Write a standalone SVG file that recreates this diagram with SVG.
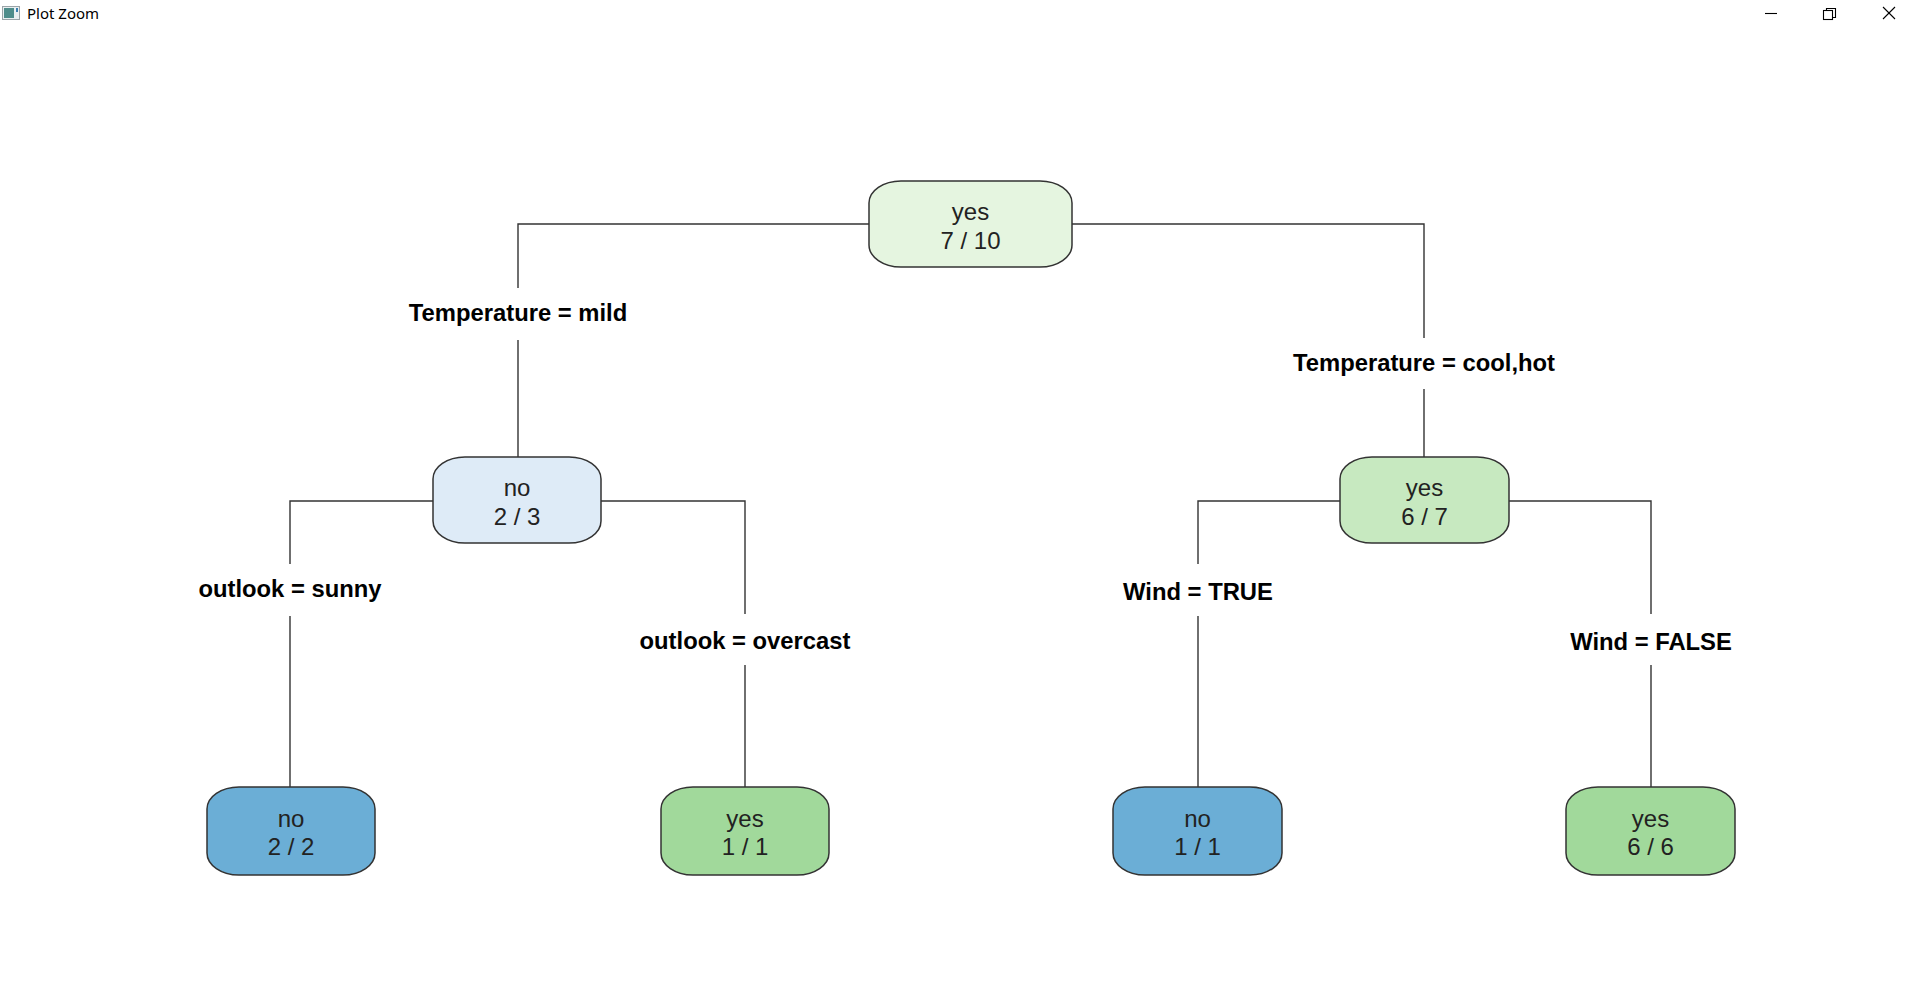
<svg xmlns="http://www.w3.org/2000/svg" width="1920" height="1001" viewBox="0 0 1920 1001">
<style>
.node{stroke:#333333;stroke-width:1.5}
.nt{font-family:"Liberation Sans",Arial,sans-serif;font-size:24px;fill:#222222;text-anchor:middle}
.lbl{font-family:"Liberation Sans",Arial,sans-serif;font-size:23.8px;font-weight:bold;fill:#000000;text-anchor:middle}
.edge{fill:none;stroke:#333333;stroke-width:1.4}
.win{fill:none;stroke:#000000;stroke-width:1.1}
</style>
<rect x="0" y="0" width="1920" height="1001" fill="#ffffff"/>
<g id="titlebar">
<rect x="2.5" y="6.5" width="17" height="13" fill="#e8eef0" stroke="#9aa4a8" stroke-width="1"/>
<rect x="4" y="8" width="10" height="10" fill="#4d8c8a"/>
<rect x="16" y="8" width="2" height="4" fill="#3a7fb0"/>
<text x="27" y="19" font-family="'Noto Sans','Liberation Sans',sans-serif" font-size="15" fill="#000000">Plot Zoom</text>
<line class="win" x1="1765" y1="13.5" x2="1777" y2="13.5"/>
<rect class="win" x="1823.5" y="10.5" width="9" height="9"/>
<path class="win" d="M1826.5 10.5 V8.5 H1835.5 V17.5 H1832.5"/>
<line class="win" x1="1883" y1="7" x2="1895" y2="19"/>
<line class="win" x1="1895" y1="7" x2="1883" y2="19"/>
</g>
<g id="connectors">
<path class="edge" d="M869 224 H518 V288"/>
<path class="edge" d="M518 340 V457"/>
<path class="edge" d="M1072 224 H1424 V338"/>
<path class="edge" d="M1424 389 V457"/>
<path class="edge" d="M433 501 H290 V564"/>
<path class="edge" d="M290 616 V787"/>
<path class="edge" d="M601 501 H745 V614"/>
<path class="edge" d="M745 665 V787"/>
<path class="edge" d="M1340 501 H1198 V564"/>
<path class="edge" d="M1198 616 V787"/>
<path class="edge" d="M1509 501 H1651 V614"/>
<path class="edge" d="M1651 665 V787"/>
<text class="lbl" x="518" y="321">Temperature = mild</text>
<text class="lbl" x="1424" y="371">Temperature = cool,hot</text>
<text class="lbl" x="290" y="597">outlook = sunny</text>
<text class="lbl" x="745" y="649">outlook = overcast</text>
<text class="lbl" x="1198" y="600">Wind = TRUE</text>
<text class="lbl" x="1651" y="650">Wind = FALSE</text>
</g>
<g id="node1">
<rect class="node" x="869" y="181" width="203" height="86" rx="32" ry="22" fill="#e5f5e0"/>
<text class="nt" x="970.5" y="220">yes</text>
<text class="nt" x="970.5" y="249">7 / 10</text>
</g>
<g id="node2">
<rect class="node" x="433" y="457" width="168" height="86" rx="32" ry="22" fill="#deebf7"/>
<text class="nt" x="517" y="496">no</text>
<text class="nt" x="517" y="525">2 / 3</text>
</g>
<g id="node3">
<rect class="node" x="1340" y="457" width="169" height="86" rx="32" ry="22" fill="#c7e9c0"/>
<text class="nt" x="1424.5" y="496">yes</text>
<text class="nt" x="1424.5" y="525">6 / 7</text>
</g>
<g id="node4">
<rect class="node" x="207" y="787" width="168" height="88" rx="32" ry="22" fill="#6baed6"/>
<text class="nt" x="291" y="827">no</text>
<text class="nt" x="291" y="855">2 / 2</text>
</g>
<g id="node5">
<rect class="node" x="661" y="787" width="168" height="88" rx="32" ry="22" fill="#a1d99b"/>
<text class="nt" x="745" y="827">yes</text>
<text class="nt" x="745" y="855">1 / 1</text>
</g>
<g id="node6">
<rect class="node" x="1113" y="787" width="169" height="88" rx="32" ry="22" fill="#6baed6"/>
<text class="nt" x="1197.5" y="827">no</text>
<text class="nt" x="1197.5" y="855">1 / 1</text>
</g>
<g id="node7">
<rect class="node" x="1566" y="787" width="169" height="88" rx="32" ry="22" fill="#a1d99b"/>
<text class="nt" x="1650.5" y="827">yes</text>
<text class="nt" x="1650.5" y="855">6 / 6</text>
</g>
</svg>
